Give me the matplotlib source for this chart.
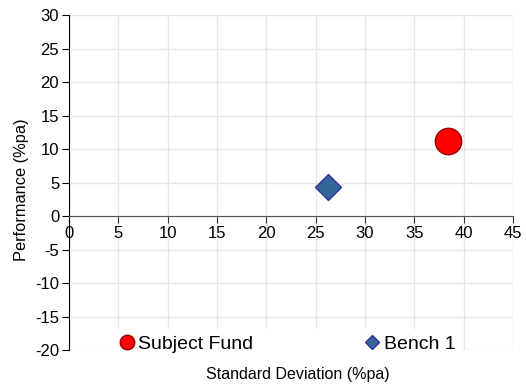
import matplotlib
matplotlib.use('Agg')
import matplotlib.pyplot as plt
import numpy as np

# risk / return points
names = ['Subject Fund', 'Bench 1']
std_dev = [38.4, 26.3]
performance = [11.2, 4.4]
markers = ['o', 'D']
face_colors = ['#ff0000', '#336699']
edge_colors = ['#990000', '#333399']
marker_sizes = [19, 13]

x_ticks = np.arange(0, 50, 5)
y_ticks = np.arange(-20, 35, 5)

plt.rcParams['font.family'] = ['Liberation Sans', 'DejaVu Sans']
plt.rcParams['axes.unicode_minus'] = False

fig = plt.figure(figsize=(5.26, 3.87), dpi=100)
ax = fig.add_axes([0.131, 0.0956, 0.844, 0.8654])

for name, x, y, m, fc, ec, ms in zip(names, std_dev, performance, markers,
                                      face_colors, edge_colors, marker_sizes):
    ax.plot([x], [y], linestyle='none', marker=m, markersize=ms,
            markerfacecolor=fc, markeredgecolor=ec, markeredgewidth=1,
            label=name, zorder=5)

ax.set_xlim(0, 45)
ax.set_ylim(-20, 30)
ax.set_xticks(x_ticks)
ax.set_yticks(y_ticks)
ax.grid(True, color='#e6e6e6', linewidth=1)
ax.set_axisbelow(True)

# x axis sits on the zero line
ax.spines['bottom'].set_position(('data', 0))
ax.spines['bottom'].set_color('#555555')
ax.spines['top'].set_visible(False)
ax.spines['right'].set_visible(False)
ax.spines['left'].set_color('black')
ax.tick_params(axis='x', direction='out', length=5, color='#333333', labelsize=12, pad=2)
ax.tick_params(axis='y', direction='out', length=5, color='black', labelsize=12, pad=2)

ax.set_xlabel('Standard Deviation (%pa)', fontsize=11.5)
ax.xaxis.set_label_coords(0.516, -0.05)
ax.set_ylabel('Performance (%pa)', fontsize=11.8)
ax.yaxis.set_label_coords(-0.09, 0.478)

leg = ax.legend(loc='lower center', bbox_to_anchor=(0.489, -0.055), ncol=2,
                frameon=True, facecolor='white', edgecolor='none', framealpha=1,
                fontsize=14, markerscale=0.55, handletextpad=0.1,
                columnspacing=5.6, handlelength=1.0, borderpad=0.3)

fig.savefig('out.png', dpi=100)
